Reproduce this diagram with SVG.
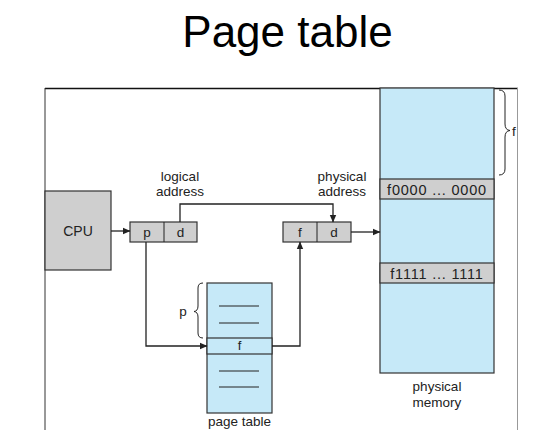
<svg xmlns="http://www.w3.org/2000/svg" width="552" height="430" viewBox="0 0 552 430">
<style>
text{font-family:"Liberation Sans",Arial,sans-serif;fill:#222}
.lbl{font-size:13.5px;text-anchor:middle}
.band{font-size:14.5px;text-anchor:middle;letter-spacing:0.8px}
.box{stroke:#333;stroke-width:1.2}
.gray{fill:#cfcfcf}
.blue{fill:#c6e9f8}
.ln{fill:none;stroke:#222;stroke-width:1.3}
.thin{fill:none;stroke:#222;stroke-width:1}
</style>
<defs>
<marker id="ah" markerWidth="8" markerHeight="8" refX="7" refY="4" orient="auto" markerUnits="userSpaceOnUse">
<path d="M0,0.8 L7.5,4 L0,7.2 Z" fill="#222"/>
</marker>
</defs>
<rect width="552" height="430" fill="#fff"/>
<text x="287.5" y="47" font-size="44" text-anchor="middle" style="fill:#000">Page table</text>
<g id="frame">
<line x1="45" y1="88.5" x2="518" y2="88.5" stroke="#111" stroke-width="1.3"/>
<line x1="45" y1="88" x2="45" y2="430" stroke="#333" stroke-width="1"/>
<line x1="517.5" y1="88" x2="517.5" y2="430" stroke="#999" stroke-width="1"/>
</g>
<g id="cpu">
<rect x="45" y="191" width="66" height="79" class="box gray"/>
<text x="78" y="236" class="lbl" style="font-size:14px">CPU</text>
</g>
<g id="logical">
<rect x="130" y="222" width="67" height="20" class="box gray"/>
<line x1="164" y1="222" x2="164" y2="242" class="thin"/>
<text x="147" y="237" class="lbl">p</text>
<text x="180.5" y="237" class="lbl">d</text>
<text x="180" y="181" class="lbl">logical</text>
<text x="180" y="196" class="lbl">address</text>
</g>
<g id="physical">
<rect x="283" y="222" width="68" height="20" class="box gray"/>
<line x1="317" y1="222" x2="317" y2="242" class="thin"/>
<text x="300" y="237" class="lbl">f</text>
<text x="334" y="237" class="lbl">d</text>
<text x="342" y="181" class="lbl">physical</text>
<text x="342" y="196" class="lbl">address</text>
</g>
<g id="memory">
<rect x="380" y="88" width="114" height="285" class="box blue"/>
<rect x="380" y="179" width="114" height="20" class="box gray"/>
<rect x="380" y="263" width="114" height="20" class="box gray"/>
<text x="437" y="194.5" class="band">f0000 ... 0000</text>
<text x="437" y="278.5" class="band">f1111 ... 1111</text>
<path d="M499,90 Q505,90 505,96 L505,124 Q505,130 510,130.5 Q505,131 505,137 L505,169 Q505,175 499,175" class="thin"/>
<text x="512" y="136" class="lbl" style="text-anchor:start">f</text>
<text x="437" y="391" class="lbl">physical</text>
<text x="437" y="407" class="lbl">memory</text>
</g>
<g id="pagetable">
<rect x="207" y="283" width="65" height="130" class="box blue"/>
<rect x="207" y="338" width="65" height="16" class="box blue"/>
<line x1="219" y1="306" x2="259" y2="306" class="thin"/>
<line x1="219" y1="323" x2="259" y2="323" class="thin"/>
<line x1="219" y1="371" x2="259" y2="371" class="thin"/>
<line x1="219" y1="387" x2="259" y2="387" class="thin"/>
<text x="239.5" y="350" class="lbl" style="font-size:13px">f</text>
<path d="M203,283 Q198,283 198,288 L198,306 Q198,311 194,311.5 Q198,312 198,317 L198,333 Q198,338 203,338" class="thin"/>
<text x="183" y="316" class="lbl">p</text>
<text x="239.5" y="426" class="lbl">page table</text>
</g>
<g id="connectors">
<line x1="111" y1="231" x2="130" y2="231" class="ln" marker-end="url(#ah)"/>
<polyline points="180,222 180,204 333,204 333,222" class="ln" marker-end="url(#ah)"/>
<line x1="351" y1="232" x2="380" y2="232" class="ln" marker-end="url(#ah)"/>
<polyline points="146,242 146,346 207,346" class="ln" marker-end="url(#ah)"/>
<polyline points="272,346 300,346 300,242" class="ln" marker-end="url(#ah)"/>
</g>
</svg>
